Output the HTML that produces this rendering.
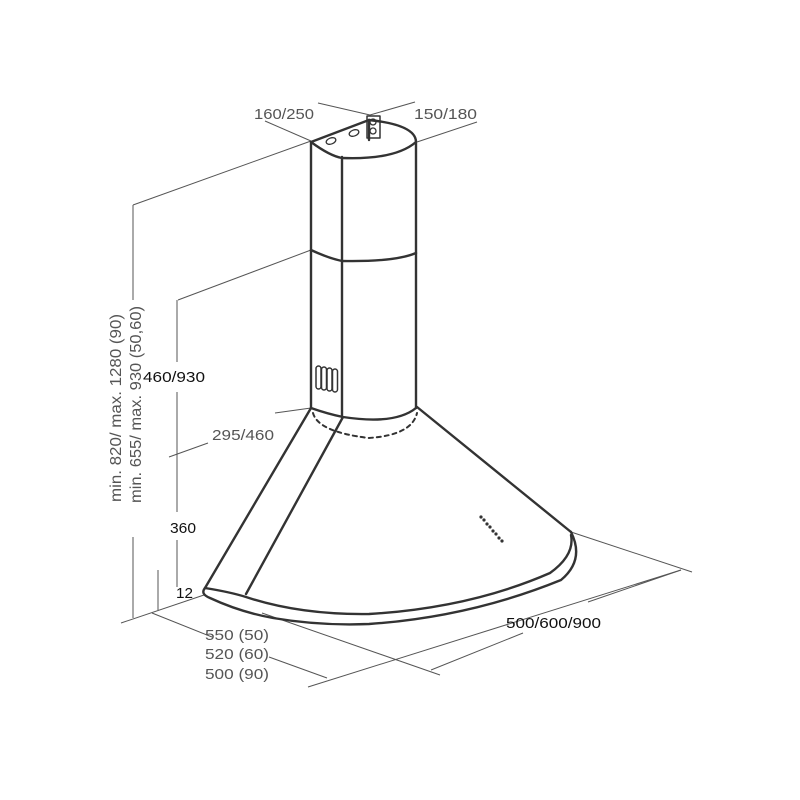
<!DOCTYPE html>
<html><head><meta charset="utf-8"><style>
html,body{margin:0;padding:0;background:#fff;}
svg{display:block;}
text{font-family:"Liberation Sans",sans-serif;}
</style></head><body>
<svg width="800" height="800" viewBox="0 0 800 800" xmlns="http://www.w3.org/2000/svg">
<g stroke="#555" stroke-width="1" fill="none">
<line x1="265" y1="121" x2="311" y2="141"/>
<line x1="318" y1="103" x2="370" y2="115"/>
<line x1="415" y1="102" x2="370" y2="115"/>
<line x1="417" y1="142" x2="477" y2="122"/>
<line x1="133" y1="205" x2="311" y2="141"/>
<line x1="133" y1="205" x2="133" y2="300"/>
<line x1="133" y1="537" x2="133" y2="618"/>
<line x1="158" y1="570" x2="158" y2="610"/>
<line x1="178" y1="300" x2="311" y2="250"/>
<line x1="177" y1="300" x2="177" y2="362"/>
<line x1="177" y1="392" x2="177" y2="512"/>
<line x1="177" y1="540" x2="177" y2="587"/>
<line x1="169" y1="457" x2="208" y2="443"/>
<line x1="275" y1="413" x2="311" y2="408"/>
<line x1="121" y1="623" x2="204" y2="595"/>
<line x1="152" y1="613" x2="212" y2="637"/>
<line x1="269" y1="657" x2="327" y2="678"/>
<line x1="308" y1="687" x2="681" y2="570"/>
<line x1="262" y1="613" x2="440" y2="675"/>
<line x1="431" y1="670" x2="523" y2="633"/>
<line x1="588" y1="602" x2="681" y2="570"/>
<line x1="571" y1="532" x2="692" y2="572"/>
</g>
<g stroke="#333" stroke-width="2.4" fill="none" stroke-linejoin="round" stroke-linecap="round">
<line x1="311" y1="143" x2="311" y2="408"/>
<line x1="342" y1="157" x2="342" y2="417"/>
<line x1="416" y1="143" x2="416" y2="408"/>
<path d="M311,142 Q330,156 342,158 Q395,160 416,142"/>
<path d="M311,142 L369,120"/>
<path d="M369,120 Q416,125 416,142"/>
<path d="M311,250 Q328,258 342,261 Q395,262 416,253"/>
<path d="M311,408 Q328,414 343,417 Q395,425 416,408"/>
<line x1="369" y1="120" x2="369" y2="140"/>
<rect x="367" y="116" width="13" height="22" stroke-width="1.5"/>
<circle cx="373" cy="122" r="3" stroke-width="1.3"/>
<circle cx="373" cy="131" r="3" stroke-width="1.3"/>
<ellipse cx="354" cy="133" rx="5" ry="3" stroke-width="1.3" transform="rotate(-20 354 133)"/>
<ellipse cx="331" cy="141" rx="5" ry="3" stroke-width="1.3" transform="rotate(-20 331 141)"/>
<g stroke-width="1.5">
<rect x="316" y="366" width="5" height="23" rx="2.5"/>
<rect x="321.5" y="367" width="5" height="23" rx="2.5"/>
<rect x="327" y="368" width="5" height="23" rx="2.5"/>
<rect x="332.5" y="369" width="5" height="23" rx="2.5"/>
</g>
<line x1="311" y1="408" x2="205" y2="588"/>
<line x1="343" y1="417" x2="246" y2="594"/>
<line x1="417" y1="407" x2="571" y2="532"/>
<path d="M205,588 Q230,592 246,597 Q300,615 369,614 Q470,608 550,573 Q575,555 571,535"/>
<path d="M205,588 Q200,594 210,598 Q240,612 273,618 Q320,626 369,624 Q470,617 561,580 Q585,560 571,532"/>
<path d="M313,413 Q318,432 369,438 Q412,435 417,413" stroke-dasharray="4,4" stroke-width="2"/>
</g>
<g fill="#333">
<circle cx="481" cy="517" r="1.6"/><circle cx="484" cy="520" r="1.6"/>
<circle cx="487" cy="524" r="1.6"/><circle cx="490" cy="527" r="1.6"/>
<circle cx="493" cy="531" r="1.6"/><circle cx="496" cy="534" r="1.6"/>
<circle cx="499" cy="538" r="1.6"/><circle cx="502" cy="541" r="1.6"/>
</g>
<g fill="#555" font-size="15">
<text x="254" y="119" textLength="60" lengthAdjust="spacingAndGlyphs">160/250</text>
<text x="414" y="119" textLength="63" lengthAdjust="spacingAndGlyphs">150/180</text>
<text x="212" y="440" textLength="62" lengthAdjust="spacingAndGlyphs">295/460</text>
<text x="205" y="640" textLength="64" lengthAdjust="spacingAndGlyphs">550 (50)</text>
<text x="205" y="659" textLength="64" lengthAdjust="spacingAndGlyphs">520 (60)</text>
<text x="205" y="679" textLength="64" lengthAdjust="spacingAndGlyphs">500 (90)</text>
<text transform="translate(121,502) rotate(-90)" font-size="16" textLength="188" lengthAdjust="spacingAndGlyphs">min. 820/ max. 1280 (90)</text>
<text transform="translate(141,503) rotate(-90)" font-size="16" textLength="197" lengthAdjust="spacingAndGlyphs">min. 655/ max. 930 (50,60)</text>
</g>
<g fill="#111" font-size="15">
<text x="143" y="382" textLength="62" lengthAdjust="spacingAndGlyphs">460/930</text>
<text x="170" y="533" textLength="26" lengthAdjust="spacingAndGlyphs">360</text>
<text x="176" y="598" textLength="17" lengthAdjust="spacingAndGlyphs">12</text>
<text x="506" y="628" textLength="95" lengthAdjust="spacingAndGlyphs">500/600/900</text>
</g>
</svg>
</body></html>
